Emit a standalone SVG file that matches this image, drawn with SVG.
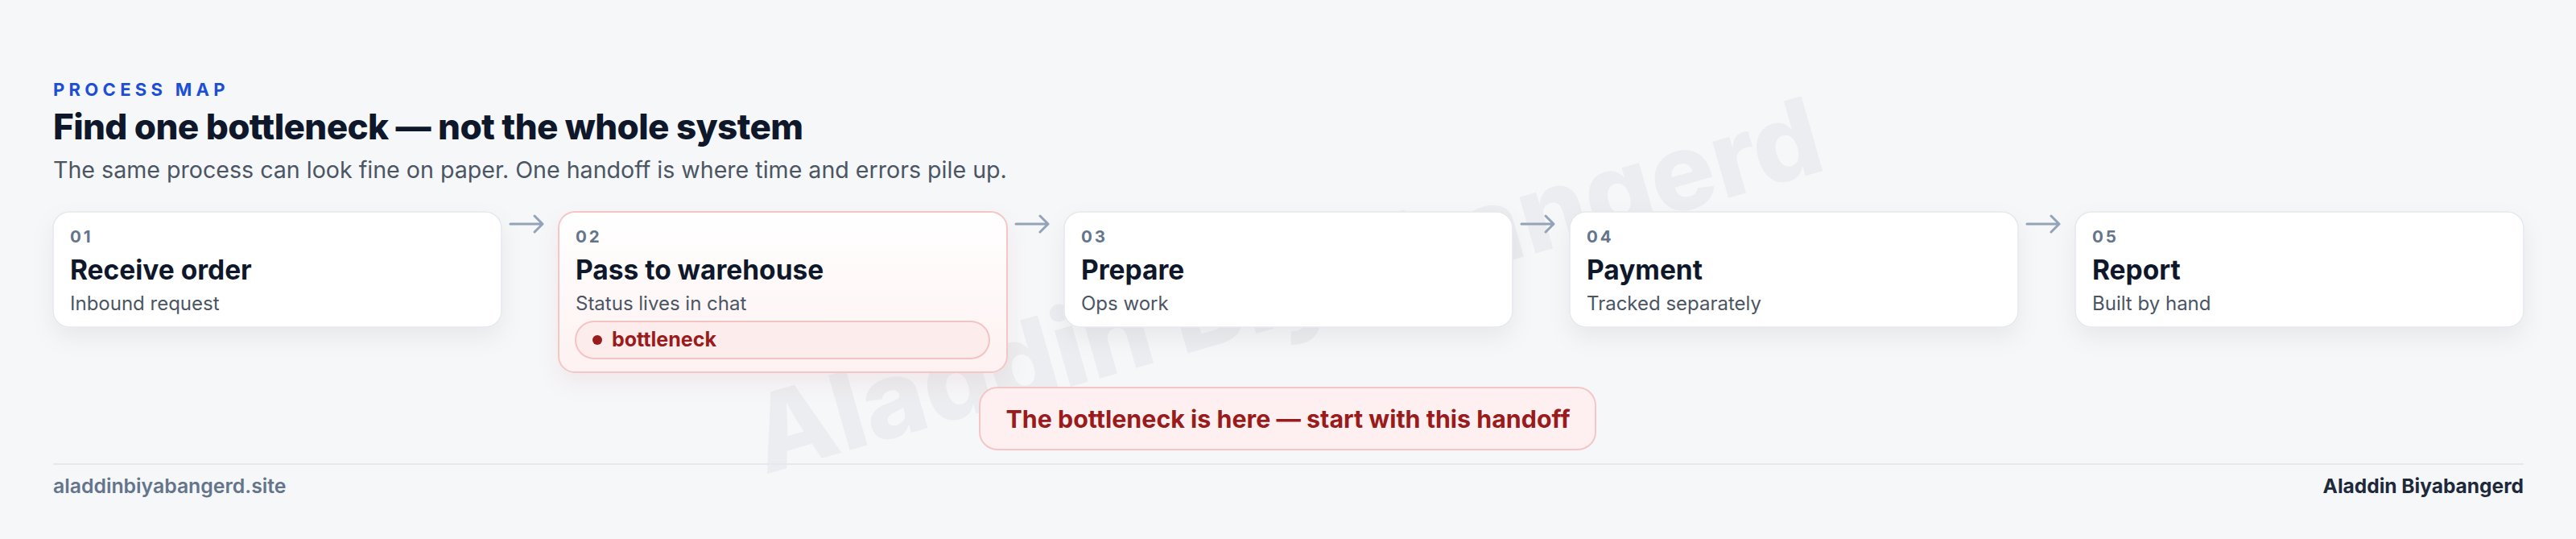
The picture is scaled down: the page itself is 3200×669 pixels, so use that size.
<svg xmlns="http://www.w3.org/2000/svg" width="3200" height="669" viewBox="0 0 3200 669">
<defs>
<style>
.t{font-family:Inter,"Liberation Sans",sans-serif}
.num{font-size:20.5px;font-weight:700;fill:#64748b;letter-spacing:3px}
.ttl{font-size:33.5px;font-weight:700;fill:#0f172a}
.sub{font-size:24px;font-weight:400;fill:#4b5563}
.card{fill:#ffffff;stroke:#e5e8ee;stroke-width:1.5}
.arrow{fill:none;stroke:#94a3b8;stroke-width:3;stroke-linecap:round;stroke-linejoin:round}
</style>
<filter id="sh" x="-10%" y="-30%" width="120%" height="180%">
<feDropShadow dx="0" dy="12" stdDeviation="14" flood-color="#0f172a" flood-opacity="0.06"/>
</filter>
<filter id="shr" x="-10%" y="-30%" width="120%" height="180%">
<feDropShadow dx="0" dy="12" stdDeviation="14" flood-color="#991b1b" flood-opacity="0.06"/>
</filter>
<linearGradient id="g2" x1="0" y1="0" x2="0" y2="1">
<stop offset="0" stop-color="#ffffff"/>
<stop offset="1" stop-color="#fef1f1"/>
</linearGradient>
</defs>
<rect width="3200" height="669" fill="#f5f7f9"/>
<text class="t" x="950" y="589" transform="rotate(-16 950 589)" font-size="133" font-weight="800" fill="#0f172a" fill-opacity="0.045">Aladdin Biyabangerd</text>
<g id="header">
<text class="t" x="66" y="119" font-size="22" font-weight="700" fill="#1d4ed8" letter-spacing="5.3">PROCESS MAP</text>
<text class="t" x="66" y="173" font-size="44" font-weight="800" fill="#0f172a" letter-spacing="-0.6">Find one bottleneck — not the whole system</text>
<text class="t" x="66" y="221" font-size="28.6" font-weight="400" fill="#4b5563">The same process can look fine on paper. One handoff is where time and errors pile up.</text>
</g>
<g id="connectors">
<path class="arrow" d="M634 278H674M664 268L674 278L664 288"/>
<path class="arrow" d="M1262 278H1302M1292 268L1302 278L1292 288"/>
<path class="arrow" d="M1890 278H1930M1920 268L1930 278L1920 288"/>
<path class="arrow" d="M2518 278H2558M2548 268L2558 278L2548 288"/>
</g>
<g id="step1">
<rect class="card" x="66" y="263" width="557" height="143" rx="20" filter="url(#sh)"/>
<text class="t num" x="87" y="301">01</text>
<text class="t ttl" x="87" y="347">Receive order</text>
<text class="t sub" x="87" y="385">Inbound request</text>
</g>
<g id="step2">
<rect x="694" y="263" width="557" height="199" rx="20" fill="url(#g2)" stroke="#f5c6c6" stroke-width="2" filter="url(#shr)"/>
<text class="t num" x="715" y="301">02</text>
<text class="t ttl" x="715" y="347">Pass to warehouse</text>
<text class="t sub" x="715" y="385">Status lives in chat</text>
<g id="badge">
<rect x="715" y="399" width="514" height="46" rx="23" fill="#fdecec" stroke="#f3c4c4" stroke-width="2"/>
<circle cx="742" cy="422" r="6" fill="#991b1b"/>
<text class="t" x="760" y="430" font-size="25" font-weight="700" fill="#991b1b">bottleneck</text>
</g>
</g>
<g id="step3">
<rect class="card" x="1322" y="263" width="557" height="143" rx="20" filter="url(#sh)"/>
<text class="t num" x="1343" y="301">03</text>
<text class="t ttl" x="1343" y="347">Prepare</text>
<text class="t sub" x="1343" y="385">Ops work</text>
</g>
<g id="step4">
<rect class="card" x="1950" y="263" width="557" height="143" rx="20" filter="url(#sh)"/>
<text class="t num" x="1971" y="301">04</text>
<text class="t ttl" x="1971" y="347">Payment</text>
<text class="t sub" x="1971" y="385">Tracked separately</text>
</g>
<g id="step5">
<rect class="card" x="2578" y="263" width="557" height="143" rx="20" filter="url(#sh)"/>
<text class="t num" x="2599" y="301">05</text>
<text class="t ttl" x="2599" y="347">Report</text>
<text class="t sub" x="2599" y="385">Built by hand</text>
</g>
<g id="callout">
<rect x="1217" y="481" width="765" height="77" rx="22" fill="#fef0f0" stroke="#f6c6c6" stroke-width="2"/>
<text class="t" x="1600" y="531" text-anchor="middle" font-size="30.4" font-weight="700" fill="#991b1b">The bottleneck is here — start with this handoff</text>
</g>
<g id="footer">
<rect x="66" y="575" width="3069" height="2" fill="#e5e8ee"/>
<text class="t" x="66" y="612" font-size="24.8" font-weight="600" fill="#64748b">aladdinbiyabangerd.site</text>
<text class="t" x="3135" y="612" text-anchor="end" font-size="24.5" font-weight="700" fill="#1e293b">Aladdin Biyabangerd</text>
</g>
</svg>
